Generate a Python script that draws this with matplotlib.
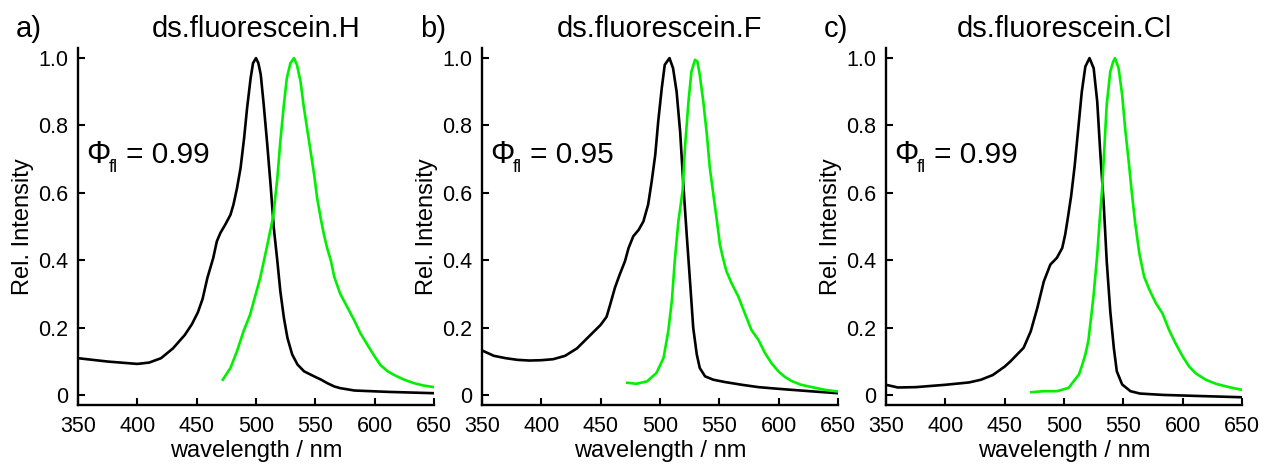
import matplotlib
matplotlib.use("Agg")
import matplotlib.pyplot as plt

plt.rcParams['font.family'] = ['Liberation Sans', 'DejaVu Sans']

titles = ["ds.fluorescein.H", "ds.fluorescein.F", "ds.fluorescein.Cl"]
letters = ["a)", "b)", "c)"]
qy = ["0.99", "0.95", "0.99"]

# Panel a
abs_a_x = [350, 375, 400, 410, 420, 430, 440, 446, 451, 455, 459, 464, 467, 470, 474, 478.5, 481, 484,
           487, 490, 492.5, 495.5, 497.5, 500, 502, 504, 506.5, 509.5, 512.5, 515, 518, 520.5, 523.5,
           526.5, 530.5, 535, 540.5, 549, 555, 560, 566, 571, 583, 611, 650]
abs_a_y = [0.109, 0.099, 0.092, 0.096, 0.109, 0.138, 0.178, 0.21, 0.245, 0.285, 0.347, 0.407, 0.456,
           0.481, 0.505, 0.535, 0.565, 0.614, 0.674, 0.763, 0.852, 0.941, 0.985, 1.0, 0.985, 0.951,
           0.862, 0.743, 0.614, 0.496, 0.397, 0.308, 0.229, 0.169, 0.12, 0.09, 0.07, 0.055, 0.045,
           0.035, 0.025, 0.02, 0.013, 0.009, 0.005]
em_a_x = [472, 478.5, 484, 489.5, 495, 503.5, 509, 514.5, 518, 520.5, 523.5, 526, 529, 532, 534.5,
          537.5, 540, 543, 546, 549, 551.5, 554.5, 557, 560, 563, 566, 571, 577, 583, 588, 594, 600,
          605, 611, 617, 625, 633, 641, 650]
em_a_y = [0.045, 0.08, 0.13, 0.189, 0.238, 0.347, 0.436, 0.53, 0.644, 0.753, 0.862, 0.941, 0.985, 1.0,
          0.98, 0.931, 0.862, 0.792, 0.723, 0.654, 0.585, 0.525, 0.48, 0.435, 0.40, 0.35, 0.30, 0.26,
          0.22, 0.183, 0.148, 0.114, 0.088, 0.07, 0.058, 0.045, 0.035, 0.028, 0.023]

# Panel b
abs_b_x = [350, 360, 370, 380, 390, 400, 410, 420, 430, 440, 450, 455, 458, 462, 466, 470.5, 473.5,
           477.5, 482, 486, 490, 493, 496, 498.5, 501.5, 504, 508, 511, 514, 517, 519.5, 522.5, 525.5,
           528, 531, 533.5, 538, 545, 555, 569, 583, 600, 611, 630, 650]
abs_b_y = [0.132, 0.116, 0.109, 0.104, 0.102, 0.103, 0.106, 0.116, 0.138, 0.173, 0.208, 0.232, 0.268,
           0.318, 0.357, 0.397, 0.436, 0.471, 0.49, 0.515, 0.565, 0.634, 0.713, 0.812, 0.911, 0.98,
           1.0, 0.97, 0.90, 0.78, 0.634, 0.476, 0.327, 0.199, 0.12, 0.08, 0.055, 0.045, 0.038, 0.03,
           0.023, 0.018, 0.015, 0.01, 0.005]
em_b_x = [472.5, 480, 489, 497, 503, 507, 510, 512.5, 515.5, 519, 521, 524, 526.5, 529.5, 531.5, 533.5,
          536.5, 539.5, 542, 545, 548, 550.5, 553.5, 556, 560.5, 566, 571.5, 577, 583, 588.5, 594, 600,
          605, 611, 619, 628, 639, 650]
em_b_y = [0.036, 0.033, 0.04, 0.065, 0.11, 0.19, 0.28, 0.40, 0.516, 0.605, 0.733, 0.871, 0.96, 0.995,
          0.99, 0.95, 0.871, 0.772, 0.674, 0.594, 0.516, 0.446, 0.40, 0.367, 0.33, 0.292, 0.242, 0.193,
          0.163, 0.124, 0.094, 0.069, 0.054, 0.041, 0.03, 0.023, 0.015, 0.01]

# Panel c
abs_c_x = [350, 360, 375, 400, 420, 430, 440, 450, 455, 466, 472, 477.5, 483, 488.5, 494, 498.5, 501,
           503, 506, 509, 512, 515, 518, 521.5, 525, 528, 530.5, 533.5, 536, 539, 542, 544.5, 549, 556,
           564, 583, 611, 650]
abs_c_y = [0.03, 0.022, 0.023, 0.03, 0.037, 0.045, 0.059, 0.084, 0.10, 0.14, 0.189, 0.258, 0.337,
           0.387, 0.407, 0.436, 0.476, 0.52, 0.59, 0.68, 0.79, 0.90, 0.975, 1.0, 0.97, 0.871, 0.723,
           0.565, 0.397, 0.248, 0.139, 0.07, 0.031, 0.011, 0.004, 0.0, -0.003, -0.007]
em_c_x = [472.5, 483, 494, 504, 508, 512.5, 515, 518, 520.5, 522.5, 525, 528, 530, 532, 534, 536, 539,
          541.5, 543, 546, 549, 551.5, 554.5, 557, 560, 563.5, 567.5, 572, 577.5, 583, 588.5, 594, 600,
          605.5, 611, 619.5, 628, 639, 650]
em_c_y = [0.008, 0.011, 0.011, 0.021, 0.04, 0.06, 0.085, 0.12, 0.16, 0.22, 0.298, 0.416, 0.516, 0.605,
          0.733, 0.862, 0.96, 0.99, 1.0, 0.97, 0.891, 0.792, 0.694, 0.605, 0.51, 0.42, 0.351, 0.312,
          0.272, 0.242, 0.193, 0.153, 0.114, 0.084, 0.064, 0.045, 0.033, 0.023, 0.015]

abs_x = [abs_a_x, abs_b_x, abs_c_x]
abs_y = [abs_a_y, abs_b_y, abs_c_y]
em_x = [em_a_x, em_b_x, em_c_x]
em_y = [em_a_y, em_b_y, em_c_y]

xticks = [350, 400, 450, 500, 550, 600, 650]
yticks = [0, 0.2, 0.4, 0.6, 0.8, 1.0]
yticklabels = ["0", "0.2", "0.4", "0.6", "0.8", "1.0"]

fig = plt.figure(figsize=(12.64, 4.65), dpi=100)
lefts = [78, 482, 886]
W, H = 1264, 465
for i in range(3):
    ax = fig.add_axes([lefts[i] / W, 1 - 405 / H, 356 / W, (405 - 48) / H])
    ax.plot(abs_x[i], abs_y[i], color='black', lw=1.9, solid_joinstyle='round')
    ax.plot(em_x[i], em_y[i], color='#00f000', lw=1.9, solid_joinstyle='round')
    ax.set_xlim(350, 650)
    ax.set_ylim(-0.03, 1.03)
    ax.set_xticks(xticks)
    ax.set_yticks(yticks)
    ax.set_yticklabels(yticklabels)
    for s in ['top', 'right']:
        ax.spines[s].set_visible(False)
    for s in ['left', 'bottom']:
        ax.spines[s].set_linewidth(1.7)
    ax.tick_params(direction='in', length=5, width=1.5, labelsize=15.5)
    ax.tick_params(axis='x', pad=8)
    ax.tick_params(axis='y', pad=7)
    ax.set_xlabel("wavelength / nm", fontsize=17, labelpad=2)
    ax.set_ylabel("Rel. Intensity", fontsize=17, labelpad=3)
    ax.text(0.5, 1.031, titles[i], transform=ax.transAxes, ha='center', va='baseline', fontsize=21)
    ax.text(-0.175, 1.031, letters[i], transform=ax.transAxes, ha='left', va='baseline', fontsize=21)
    anchor = (357, 0.69)
    ax.annotate("\u03a6", xy=anchor, xytext=(0, 0), textcoords='offset points',
                ha='left', va='baseline', fontsize=22)
    ax.annotate("fl", xy=anchor, xytext=(16.5, -6.5), textcoords='offset points',
                ha='left', va='baseline', fontsize=13)
    ax.annotate("= " + qy[i], xy=anchor, xytext=(28.5, 0), textcoords='offset points',
                ha='left', va='baseline', fontsize=21.5)

fig.savefig("out.png", dpi=100)
